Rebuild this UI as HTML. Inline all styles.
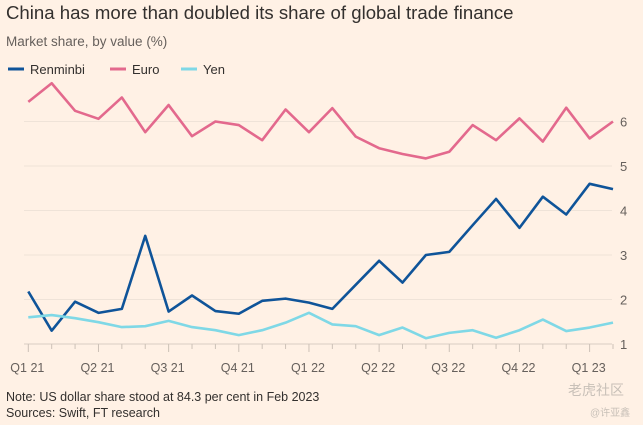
<!DOCTYPE html>
<html><head><meta charset="utf-8"><style>
body{margin:0;background:#fff1e5;font-family:"Liberation Sans","Noto Sans CJK SC",sans-serif;}
#wrap{position:relative;width:643px;height:425px;overflow:hidden;background:#fff1e5;}
.t{position:absolute;white-space:nowrap;}
</style></head><body>
<div id="wrap">
<div class="t" style="left:6px;top:2px;font-size:18.6px;color:#33302e;">China has more than doubled its share of global trade finance</div>
<div class="t" style="left:6px;top:34px;font-size:13.5px;color:#66605c;">Market share, by value (%)</div>
<svg id="chart" width="643" height="425" style="position:absolute;left:0;top:0;"></svg>
<div class="t" style="left:6px;top:390px;font-size:12.5px;color:#33302e;">Note: US dollar share stood at 84.3 per cent in Feb 2023</div>
<div class="t" style="left:6px;top:406px;font-size:12.5px;color:#33302e;">Sources: Swift, FT research</div>
<div class="t" style="left:568px;top:380px;font-size:14px;color:#c8c0b8;">老虎社区</div>
<div class="t" style="left:590px;top:404px;font-size:10px;color:#c8c0b8;">@许亚鑫</div>
</div>
<script>
const months = ["Jan21","Feb21","Mar21","Apr21","May21","Jun21","Jul21","Aug21","Sep21","Oct21","Nov21","Dec21","Jan22","Feb22","Mar22","Apr22","May22","Jun22","Jul22","Aug22","Sep22","Oct22","Nov22","Dec22","Jan23","Feb23"];
const renminbi = [2.18,1.30,1.95,1.70,1.79,3.43,1.73,2.09,1.74,1.68,1.97,2.02,1.93,1.79,2.33,2.87,2.38,3.0,3.07,3.67,4.26,3.61,4.31,3.91,4.60,4.48];
const euro = [6.44,6.86,6.24,6.06,6.54,5.76,6.37,5.67,6.0,5.92,5.58,6.27,5.76,6.30,5.66,5.40,5.27,5.17,5.32,5.92,5.58,6.07,5.55,6.31,5.62,6.0];
const yen = [1.60,1.65,1.58,1.49,1.38,1.40,1.52,1.38,1.31,1.20,1.31,1.48,1.70,1.44,1.40,1.20,1.37,1.13,1.25,1.31,1.14,1.31,1.55,1.29,1.37,1.48];
const yTicks = [1,2,3,4,5,6];
const xLabels = ["Q1 21","Q2 21","Q3 21","Q4 21","Q1 22","Q2 22","Q3 22","Q4 22","Q1 23"];
const seriesNames = ["Renminbi","Euro","Yen"];
const colors = ["#0f5499","#e3698d","#7fd8e6"];

const svg = document.getElementById('chart');
const NS = "http://www.w3.org/2000/svg";
const x0 = 28.3, step = (613 - 28.3) / 25;
const xs = i => x0 + i * step;
const ys = v => 344 - (v - 1) * 44.5;
function mk(tag, attrs){const e=document.createElementNS(NS,tag);for(const k in attrs)e.setAttribute(k,attrs[k]);svg.appendChild(e);return e;}

yTicks.forEach(v=>{
  const l=mk('line',{x1:24,x2:612,y1:ys(v),y2:ys(v),stroke:v===1?'#d9cdc3':'#efe3d8','stroke-width':1});
  
  
  const t=mk('text',{x:620,y:ys(v)+5,'font-size':13,fill:'#66605c','font-family':'Liberation Sans, sans-serif'});
  t.textContent=v;
  
  
});
months.forEach((m,i)=>{
  const l=mk('line',{x1:xs(i),x2:xs(i),y1:344,y2:i%3===0?352:349,stroke:'#ccc1b7','stroke-width':1});
  
  
});
xLabels.forEach((s,k)=>{
  const t=mk('text',{x:xs(k*3)-18,y:372,'font-size':12.5,fill:'#66605c','font-family':'Liberation Sans, sans-serif'});
  t.textContent=s;
  
  
});
[renminbi,euro,yen].forEach((data,si)=>{
  const p=mk('polyline',{points:data.map((v,i)=>xs(i)+','+ys(v)).join(' '),fill:'none',stroke:colors[si],'stroke-width':2.6,'stroke-linejoin':'round'});
  
  
});
const legX=[8,110,181];
seriesNames.forEach((n,si)=>{
  const l=mk('line',{x1:legX[si],x2:legX[si]+16,y1:69,y2:69,stroke:colors[si],'stroke-width':3});
  
  
  const t=mk('text',{x:legX[si]+22,y:74,'font-size':13,fill:'#33302e','font-family':'Liberation Sans, sans-serif'});
  t.textContent=n;
  
  
});
</script>
</body></html>
